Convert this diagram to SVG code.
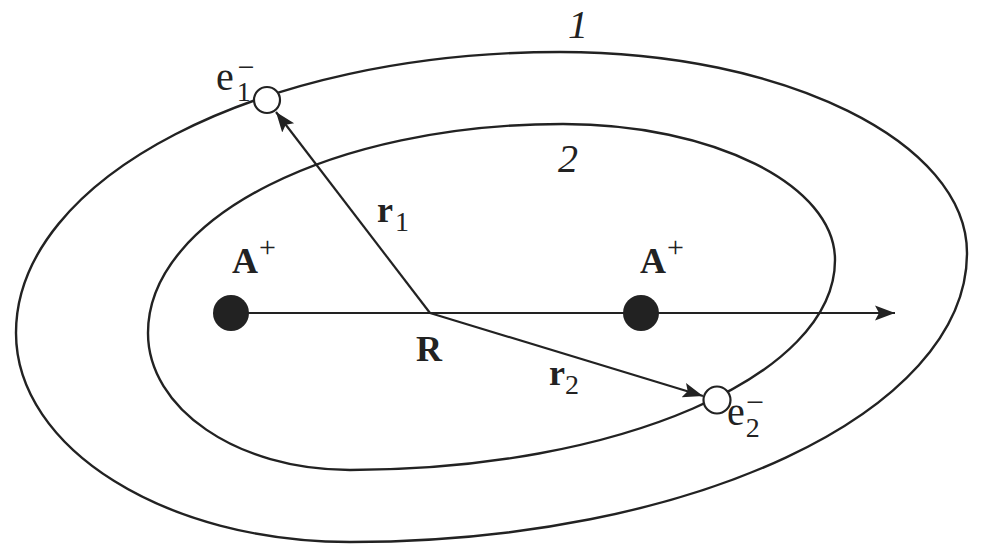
<svg xmlns="http://www.w3.org/2000/svg" width="987" height="555" viewBox="0 0 987 555">
<style>
.orbit{fill:none;stroke:#222;stroke-width:2.4}
.conn{fill:none;stroke:#222;stroke-width:2.2}
.nuc{fill:#222}
.el{fill:#fff;stroke:#222;stroke-width:2.2}
.b{font-family:"Liberation Serif","Times New Roman",serif;font-weight:bold;font-size:36px;fill:#222}
.r{font-family:"Liberation Serif","Times New Roman",serif;fill:#222}
.n{font-weight:normal}
.i{font-family:"Liberation Serif","Times New Roman",serif;font-style:italic;font-size:40px;fill:#222}
</style>
<defs>
<marker id="ah" markerUnits="userSpaceOnUse" markerWidth="22" markerHeight="18" refX="20" refY="8" orient="auto" viewBox="0 0 22 16">
<path d="M0,0.5 L20,8 L0,15.5 L4,8 Z" fill="#222"/>
</marker>
</defs>
<g id="orbits">
<path id="orbit-1" class="orbit" d="M16,333 C16,177.8 259.6,52 560,52 C784.8,52 967,142 967,253 C967,412.6 690.8,542 350,542 C165.5,542 16,448.4 16,333 Z"/>
<path id="orbit-2" class="orbit" d="M148,333 C148,217 333,124 563,124 C713,124 835,185 835,260 C835,376 618,470 350,470 C236,470 148,408 148,333 Z"/>
</g>
<g id="connectors">
<line id="axis" class="conn" x1="231" y1="313" x2="895" y2="313" marker-end="url(#ah)"/>
<line id="r1" class="conn" x1="430" y1="313" x2="276" y2="112" marker-end="url(#ah)"/>
<line id="r2" class="conn" x1="430" y1="313" x2="703" y2="396" marker-end="url(#ah)"/>
</g>
<g id="nucleus-left">
<circle class="nuc" cx="231" cy="313" r="18"/>
<text class="b" x="232" y="273">A<tspan class="n" font-size="30" dx="1" dy="-16">+</tspan></text>
</g>
<g id="nucleus-right">
<circle class="nuc" cx="641" cy="313" r="18"/>
<text class="b" x="640" y="273">A<tspan class="n" font-size="30" dx="1" dy="-16">+</tspan></text>
</g>
<g id="electron-1">
<circle class="el" cx="267" cy="100" r="13"/>
<text class="r" x="216" y="90" font-size="40">e<tspan font-size="28" dx="3" dy="11">1</tspan><tspan font-size="30" dx="-13" dy="-24">−</tspan></text>
</g>
<g id="electron-2">
<circle class="el" cx="717" cy="400" r="13.5"/>
<text class="r" x="727" y="425" font-size="40">e<tspan font-size="28" dx="1" dy="12">2</tspan><tspan font-size="32" dx="-14" dy="-24">−</tspan></text>
</g>
<g id="origin">
<text class="b" x="416" y="361">R</text>
</g>
<g id="labels">
<text class="b" x="377" y="222">r<tspan class="n" font-size="28" dx="2" dy="9">1</tspan></text>
<text class="b" x="549" y="385">r<tspan class="n" font-size="28" dx="0" dy="9">2</tspan></text>
<text class="i" x="568" y="38">1</text>
<text class="i" x="558" y="172">2</text>
</g>
</svg>
